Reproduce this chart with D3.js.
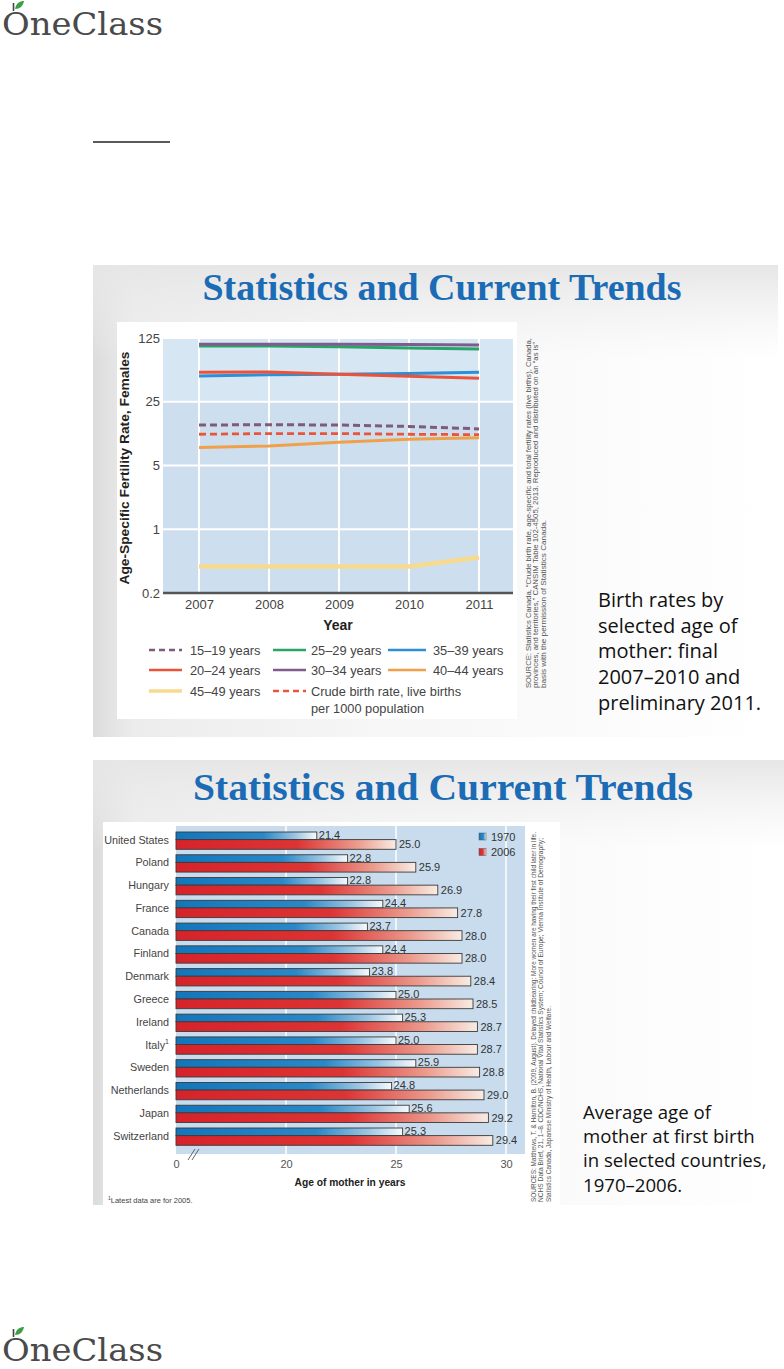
<!DOCTYPE html>
<html><head><meta charset="utf-8">
<script src="https://cdn.jsdelivr.net/npm/d3@7"></script>
<style>body{margin:0;background:#fff}svg{display:block}</style>
</head><body>
<script>
// ---------- DATA ----------
const years = [2007, 2008, 2009, 2010, 2011];
const rate15_19 = [13.9, 14.0, 13.9, 13.4, 12.6];
const rate20_24 = [52.5, 53.0, 50.0, 47.5, 45.2];
const rate25_29 = [102, 102, 100.5, 97, 94.5];
const rate30_34 = [107, 107, 106.5, 106, 105];
const rate35_39 = [48.0, 49.5, 50.0, 51.0, 52.5];
const rate40_44 = [7.9, 8.2, 9.0, 9.7, 10.1];
const rate45_49 = [0.39, 0.39, 0.39, 0.39, 0.49];
const crudeRate = [11.0, 11.2, 11.2, 11.0, 10.9];
const fertTicks = [0.2, 1, 5, 25, 125];

const countries = ["United States","Poland","Hungary","France","Canada","Finland","Denmark","Greece","Ireland","Italy","Sweden","Netherlands","Japan","Switzerland"];
const age1970 = [21.4, 22.8, 22.8, 24.4, 23.7, 24.4, 23.8, 25.0, 25.3, 25.0, 25.9, 24.8, 25.6, 25.3];
const age2006 = [25.0, 25.9, 26.9, 27.8, 28.0, 28.0, 28.4, 28.5, 28.7, 28.7, 28.8, 29.0, 29.2, 29.4];
const ageTicks = [15, 20, 25, 30];
const ageTickLabels = ["0", "20", "25", "30"];

// ---------- SETUP ----------
const W = 784, H = 1369;
const svg = d3.select("body").append("svg").attr("width", W).attr("height", H);
const defs = svg.append("defs");
const SANS = "'Liberation Sans', Arial, sans-serif";

function lin(id, stops, x2 = 1, y2 = 0) {
  const g = defs.append("linearGradient").attr("id", id).attr("x1", 0).attr("y1", 0).attr("x2", x2).attr("y2", y2);
  stops.forEach(s => g.append("stop").attr("offset", s[0]).attr("stop-color", s[1]));
}
lin("slideH", [[0, "#dcdcdc"], [0.06, "#ececec"], [0.4, "#f6f6f6"], [1, "#ffffff"]]);
lin("slideV", [[0, "#e6e6e6"], [0.2, "rgba(240,240,240,0)"], [1, "rgba(255,255,255,0)"]], 0, 1);
lin("blueBar", [[0, "#1376bb"], [0.62, "#2a88c8"], [0.85, "#9cc6e4"], [1, "#f7fafc"]]);
lin("redBar", [[0, "#d6232b"], [0.55, "#dc3434"], [0.82, "#eb9a8c"], [1, "#f8ece4"]]);

// ---------- LOGOS & UNDERLINE ----------
function logo(baseY) {
  const g = svg.append("g");
  g.append("text").attr("x", 2).attr("y", baseY).text("OneClass")
    .attr("font-family", "'DejaVu Serif', serif").attr("font-size", 31)
    .attr("fill", "#4a4a4a").attr("textLength", 161).attr("lengthAdjust", "spacingAndGlyphs");
  const top = baseY - 25;
  g.append("line").attr("x1", 13.5).attr("x2", 13.5).attr("y1", top - 7).attr("y2", top + 1)
    .attr("stroke", "#444").attr("stroke-width", 1.6);
  g.append("path").attr("d", `M15,${top-1} C16,${top-7} 20,${top-9} 24,${top-9} C23,${top-4} 20,${top-1} 15,${top-1} Z`)
    .attr("fill", "#3d9e45");
}
logo(35);
logo(1361);
svg.append("line").attr("x1", 93).attr("x2", 170).attr("y1", 142).attr("y2", 142)
  .attr("stroke", "#222").attr("stroke-width", 1.5);

// ---------- SLIDES ----------
function slide(x, y, w, h) {
  svg.append("rect").attr("x", x).attr("y", y).attr("width", w).attr("height", h).attr("fill", "url(#slideH)");
  svg.append("rect").attr("x", x).attr("y", y).attr("width", w).attr("height", h).attr("fill", "url(#slideV)");
}
slide(93, 265, 685, 472);
slide(93, 760, 691, 445);

function title(x, y, len) {
  svg.append("text").attr("x", x).attr("y", y).attr("text-anchor", "middle")
    .attr("font-family", "'Liberation Serif', 'Times New Roman', serif").attr("font-weight", "bold")
    .attr("font-size", 37).attr("fill", "#1b6cb5").attr("textLength", len).attr("lengthAdjust", "spacingAndGlyphs")
    .text("Statistics and Current Trends");
}
title(442, 300, 479);
title(443, 800, 500);

// ---------- CHART 1 ----------
svg.append("rect").attr("x", 117).attr("y", 322).attr("width", 400).attr("height", 397).attr("fill", "#fff");
const px0 = 163, px1 = 513, py0 = 338, py1 = 593;
const x1 = d3.scaleLinear().domain([2007, 2011]).range([199, 479]);
const y1 = d3.scaleLog().domain([0.2, 125]).range([py1, py0]);
const c1 = svg.append("g");
c1.append("rect").attr("x", px0).attr("y", py0).attr("width", px1 - px0).attr("height", py1 - py0).attr("fill", "#cddfee");
c1.append("rect").attr("x", px0).attr("y", py0).attr("width", px1 - px0).attr("height", y1(25) - py0).attr("fill", "#d6e6f2");
c1.selectAll("line.hg").data(fertTicks.slice(1)).join("line")
  .attr("x1", px0).attr("x2", px1).attr("y1", d => y1(d)).attr("y2", d => y1(d))
  .attr("stroke", "#fff").attr("stroke-width", 2);
c1.selectAll("line.vg").data(years).join("line")
  .attr("x1", d => x1(d)).attr("x2", d => x1(d)).attr("y1", py0).attr("y2", py1)
  .attr("stroke", "#fff").attr("stroke-width", 2);

const series = [
  { name: "45–49 years", vals: rate45_49, color: "#f7da8e", w: 4.5, dash: null },
  { name: "40–44 years", vals: rate40_44, color: "#f0a048", w: 3, dash: null },
  { name: "crude", vals: crudeRate, color: "#e9553b", w: 2.8, dash: "7,4" },
  { name: "15–19 years", vals: rate15_19, color: "#7e5a7c", w: 3, dash: "7,4" },
  { name: "35–39 years", vals: rate35_39, color: "#2e8fd4", w: 3, dash: null },
  { name: "20–24 years", vals: rate20_24, color: "#ea5339", w: 3, dash: null },
  { name: "25–29 years", vals: rate25_29, color: "#27a56b", w: 3, dash: null },
  { name: "30–34 years", vals: rate30_34, color: "#7e5c8b", w: 3, dash: null }
];
const line1 = d3.line().x((d, i) => x1(years[i])).y(d => y1(d));
c1.selectAll("path.s").data(series).join("path")
  .attr("d", d => line1(d.vals)).attr("fill", "none").attr("stroke", d => d.color)
  .attr("stroke-width", d => d.w).attr("stroke-dasharray", d => d.dash);

c1.append("line").attr("x1", px0).attr("x2", px1).attr("y1", py1).attr("y2", py1)
  .attr("stroke", "#555").attr("stroke-width", 2.5);

const ya = c1.append("g").attr("transform", `translate(${px0 + 2},0)`)
  .call(d3.axisLeft(y1).tickValues(fertTicks).tickFormat(d => String(d)).tickSize(0).tickPadding(5));
ya.select(".domain").remove();
ya.selectAll("text").attr("font-family", SANS).attr("font-size", 13).attr("fill", "#444");
const xa = c1.append("g").attr("transform", `translate(0,${py1})`)
  .call(d3.axisBottom(x1).tickValues(years).tickFormat(d3.format("d")).tickSize(0).tickPadding(7));
xa.select(".domain").remove();
xa.selectAll("text").attr("font-family", SANS).attr("font-size", 13).attr("fill", "#444");

c1.append("text").attr("transform", "translate(124,468) rotate(-90)").attr("text-anchor", "middle")
  .attr("dominant-baseline", "central").attr("font-family", SANS).attr("font-weight", "bold")
  .attr("font-size", 13.5).attr("fill", "#222").attr("textLength", 233).attr("lengthAdjust", "spacingAndGlyphs")
  .text("Age-Specific Fertility Rate, Females");
c1.append("text").attr("x", 338).attr("y", 630).attr("text-anchor", "middle").attr("font-family", SANS)
  .attr("font-weight", "bold").attr("font-size", 14).attr("fill", "#222").text("Year");

const legendItems = [
  { s: "15–19 years", col: 0, row: 0 }, { s: "25–29 years", col: 1, row: 0 }, { s: "35–39 years", col: 2, row: 0 },
  { s: "20–24 years", col: 0, row: 1 }, { s: "30–34 years", col: 1, row: 1 }, { s: "40–44 years", col: 2, row: 1 },
  { s: "45–49 years", col: 0, row: 2 }, { s: "crude", col: 1, row: 2 }
];
const colSym = [[149, 182], [273, 306], [388, 426]];
const colTxt = [190, 311, 433];
const rowY = [650, 670, 691];
legendItems.forEach(it => {
  const s = series.find(d => d.name === it.s);
  const yy = rowY[it.row];
  c1.append("line").attr("x1", colSym[it.col][0]).attr("x2", colSym[it.col][1]).attr("y1", yy).attr("y2", yy)
    .attr("stroke", s.color).attr("stroke-width", s.w === 4.5 ? 3.5 : 2.6).attr("stroke-dasharray", s.dash ? "6,4" : null);
  const t = c1.append("text").attr("x", colTxt[it.col]).attr("y", yy).attr("dominant-baseline", "central")
    .attr("font-family", SANS).attr("font-size", 12.8).attr("fill", "#444");
  if (it.s === "crude") {
    t.append("tspan").text("Crude birth rate, live births");
    t.append("tspan").attr("x", colTxt[it.col]).attr("dy", 16.5).text("per 1000 population");
  } else t.text(it.s);
});

function rotLines(lines, xs, yStart, lens) {
  lines.forEach((l, i) => {
    svg.append("text").attr("transform", `translate(${xs[i]},${yStart}) rotate(-90)`)
      .attr("dominant-baseline", "central").attr("font-family", SANS).attr("font-size", 7.2).attr("fill", "#555")
      .attr("textLength", lens[i]).attr("lengthAdjust", "spacingAndGlyphs").text(l);
  });
}
rotLines([
  "SOURCE: Statistics Canada, “Crude birth rate, age-specific and total fertility rates (live births), Canada,",
  "provinces, and territories,” CANSIM Table 102-4505, 2013. Reproduced and distributed on an “as is”",
  "basis with the permission of Statistics Canada."
], [528, 535.5, 543], 688, [350, 346, 168]);

function caption(lines, x, y0, fs, lh) {
  const t = svg.append("text").attr("font-family", "'Open Sans', 'Noto Sans', sans-serif").attr("font-size", fs).attr("fill", "#111");
  lines.forEach((l, i) => t.append("tspan").attr("x", x).attr("y", y0 + i * lh).text(l));
}
caption(["Birth rates by", "selected age of", "mother: final", "2007–2010 and", "preliminary 2011."], 598, 607, 20, 25.7);

// ---------- CHART 2 ----------
svg.append("rect").attr("x", 103).attr("y", 822).attr("width", 457).attr("height", 383).attr("fill", "#fff");
const bx0 = 176, bx1 = 525, by0 = 826, by1 = 1154;
const xb = d3.scaleLinear().domain([15, 31]).range([176, 528]);
const yb = d3.scaleBand().domain(countries).range([832, 1145.3]).paddingInner(0.24).paddingOuter(0);
const c2 = svg.append("g");
c2.append("rect").attr("x", bx0).attr("y", by0).attr("width", bx1 - bx0).attr("height", by1 - by0).attr("fill", "#c8dced");
c2.selectAll("line.g").data(ageTicks.slice(1)).join("line")
  .attr("x1", d => xb(d)).attr("x2", d => xb(d)).attr("y1", by0).attr("y2", by1)
  .attr("stroke", "#fff").attr("stroke-width", 1.5);

const bw = yb.bandwidth(), hB = bw * 0.44, hR = bw - hB;
c2.selectAll("rect.b").data(countries).join("rect")
  .attr("x", xb(15)).attr("y", d => yb(d)).attr("width", (d, i) => xb(age1970[i]) - xb(15)).attr("height", hB)
  .attr("fill", "url(#blueBar)").attr("stroke", "#3b3b3b").attr("stroke-width", 0.9);
c2.selectAll("rect.r").data(countries).join("rect")
  .attr("x", xb(15)).attr("y", d => yb(d) + hB).attr("width", (d, i) => xb(age2006[i]) - xb(15)).attr("height", hR)
  .attr("fill", "url(#redBar)").attr("stroke", "#3b3b3b").attr("stroke-width", 0.9);

c2.selectAll("text.vb").data(countries).join("text")
  .attr("x", (d, i) => xb(age1970[i]) + 2).attr("y", d => yb(d) + hB / 2 - 1).attr("dominant-baseline", "central")
  .attr("font-family", SANS).attr("font-size", 11).attr("fill", "#333").text((d, i) => age1970[i].toFixed(1));
c2.selectAll("text.vr").data(countries).join("text")
  .attr("x", (d, i) => xb(age2006[i]) + 3).attr("y", d => yb(d) + hB + hR / 2).attr("dominant-baseline", "central")
  .attr("font-family", SANS).attr("font-size", 11).attr("fill", "#333").text((d, i) => age2006[i].toFixed(1));

const cl = c2.selectAll("text.c").data(countries).join("text")
  .attr("x", 169).attr("y", d => yb(d) + hB).attr("text-anchor", "end").attr("dominant-baseline", "central")
  .attr("font-family", SANS).attr("font-size", 10.8).attr("fill", "#444");
cl.each(function (d) {
  const t = d3.select(this);
  t.append("tspan").text(d);
  if (d === "Italy") t.append("tspan").attr("font-size", 7).attr("dy", -4).text("1");
});

const xa2 = c2.append("g").attr("transform", `translate(0,${by1})`)
  .call(d3.axisBottom(xb).tickValues(ageTicks).tickFormat((d, i) => ageTickLabels[i]).tickSize(0).tickPadding(6));
xa2.select(".domain").remove();
xa2.selectAll("text").attr("font-family", SANS).attr("font-size", 11).attr("fill", "#555");
c2.append("path").attr("d", "M188,1160 L195,1149 M192,1160 L199,1149").attr("stroke", "#555").attr("stroke-width", 0.9).attr("fill", "none");
c2.append("text").attr("x", 350).attr("y", 1182).attr("text-anchor", "middle").attr("dominant-baseline", "central")
  .attr("font-family", SANS).attr("font-weight", "bold").attr("font-size", 11).attr("fill", "#222")
  .attr("textLength", 111).attr("lengthAdjust", "spacingAndGlyphs").text("Age of mother in years");

// legend
[["1970", "url(#blueBar)", 836.5], ["2006", "url(#redBar)", 852]].forEach(l => {
  c2.append("rect").attr("x", 479).attr("y", l[2] - 3.5).attr("width", 7).attr("height", 7).attr("fill", l[1]).attr("stroke", "#555").attr("stroke-width", 0.5);
  c2.append("text").attr("x", 491).attr("y", l[2]).attr("dominant-baseline", "central").attr("font-family", SANS)
    .attr("font-size", 11).attr("fill", "#333").text(l[0]);
});

const fn = svg.append("text").attr("x", 108).attr("y", 1200).attr("dominant-baseline", "central")
  .attr("font-family", SANS).attr("font-size", 7.5).attr("fill", "#444");
fn.append("tspan").attr("font-size", 5).attr("dy", -2).text("1");
fn.append("tspan").attr("dy", 2).text("Latest data are for 2005.");

rotLines([
  "SOURCES: Matthews, T. & Hamilton, B. (2009, August). Delayed childbearing: More women are having their first child later in life.",
  "NCHS Data Brief, 21, 1–8. CDC/NCHS, National Vital Statistics System; Council of Europe; Vienna Institute of Demography;",
  "Statistics Canada, Japanese Ministry of Health, Labour and Welfare."
], [533, 540.5, 548], 1202, [370, 364, 196]);

caption(["Average age of", "mother at first birth", "in selected countries,", "1970–2006."], 583, 1119, 18.6, 24.2);
</script>
</body></html>
